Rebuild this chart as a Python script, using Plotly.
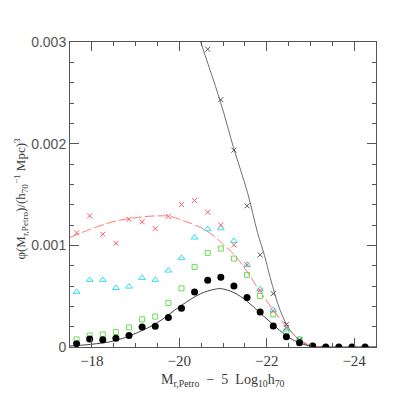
import plotly.graph_objects as go

# absolute magnitude bins (M_r,Petro - 5 log10 h70)
mag_bins = [-17.65, -17.95, -18.25, -18.55, -18.85, -19.15, -19.45, -19.75,
            -20.05, -20.35, -20.65, -20.95, -21.25, -21.55, -21.85, -22.15,
            -22.45, -22.75, -23.05, -23.35, -23.65, -23.95, -24.25]

# filled black circles
phi_black = [0.000033, 0.000079, 0.000072, 0.000085, 0.000114, 0.000197, 0.000203,
             0.000289, 0.000380, 0.000542, 0.000656, 0.000686, 0.000601, 0.000486,
             0.000345, 0.000207, 0.000101, 0.000042, 0.000010, 0.0, 0.0, 0.0, 0.0]

# red crosses
phi_red = [0.001123, 0.001290, 0.001109, 0.001020, 0.001257, 0.001232, 0.001165,
           0.001284, 0.001402, 0.001441, 0.001326, 0.001200, 0.001005, 0.000808,
           0.000558, 0.000355, 0.000190, 0.000060, 0.000005]

# cyan triangles
phi_cyan = [0.000542, 0.000660, 0.000660, 0.000581, 0.000594, 0.000680, 0.000660,
            0.000752, 0.000877, 0.001077, 0.001159, 0.001168, 0.001044, 0.000808,
            0.000568, 0.000365, 0.000173, 0.000070, 0.000005]

# green squares
phi_green = [0.000075, 0.000114, 0.000124, 0.000148, 0.000193, 0.000272, 0.000299,
             0.000434, 0.000577, 0.000788, 0.000926, 0.000968, 0.000870, 0.000709,
             0.000502, 0.000321, 0.000151, 0.000075, 0.000005]

# grey crosses (bright end)
mag_grey = [-20.65, -20.95, -21.25, -21.55, -21.85, -22.15, -22.45, -22.75, -23.05]
phi_grey = [0.002929, 0.002433, 0.001937, 0.001389, 0.000906, 0.000525, 0.000223,
            0.000070, 0.000010]

# fitted curves
fit_low_mag = [-17.5, -17.97, -18.5, -19.04, -19.5, -20.03, -20.49, -20.8, -20.95,
               -21.25, -21.54, -21.84, -22.14, -22.44, -22.74, -23.05, -23.4, -24.5]
fit_low_phi = [0.000010, 0.000026, 0.000059, 0.000141, 0.000240, 0.000404, 0.000525,
               0.000567, 0.000574, 0.000535, 0.000453, 0.000338, 0.000223, 0.000114,
               0.000042, 0.000006, 0.0, 0.0]

fit_red_mag = [-17.5, -17.97, -18.5, -19.04, -19.5, -19.8, -20.1, -20.49, -20.8, -21.0,
               -21.25, -21.54, -21.84, -22.14, -22.44, -22.74, -23.05, -23.3, -24.5]
fit_red_phi = [0.001077, 0.001159, 0.001234, 0.001274, 0.001290, 0.001284, 0.001241,
               0.001175, 0.001090, 0.001010, 0.000912, 0.000749, 0.000552, 0.000370,
               0.000207, 0.000075, 0.000010, 0.0, 0.0]

fit_high_mag = [-20.3, -20.49, -20.94, -21.24, -21.56, -21.79, -21.95, -22.08, -22.31,
                -22.54, -22.77, -23.0, -23.23, -24.5]
fit_high_phi = [0.00326, 0.00300, 0.002414, 0.001963, 0.001520, 0.001126, 0.000899,
                0.000683, 0.000358, 0.000161, 0.000062, 0.000010, 0.0, 0.0]

SERIF = "Liberation Serif"
SANS = "Liberation Sans"
TXT = "#3a3a3a"
AX = "#555555"

fig = go.Figure()

fig.add_trace(go.Scatter(x=fit_high_mag, y=fit_high_phi, mode="lines", line_shape="spline",
                         line=dict(color="#707070", width=1)))
fig.add_trace(go.Scatter(x=fit_low_mag, y=fit_low_phi, mode="lines", line_shape="spline",
                         line=dict(color="#444444", width=1)))
fig.add_trace(go.Scatter(x=fit_red_mag, y=fit_red_phi, mode="lines", line_shape="spline",
                         line=dict(color="#ff7a7a", width=1, dash="10px,3px")))

fig.add_trace(go.Scatter(x=mag_bins[:len(phi_green)], y=phi_green, mode="markers",
                         marker=dict(symbol="square-open", size=5, color="#66dd55",
                                     line=dict(width=1))))
fig.add_trace(go.Scatter(x=mag_bins[:len(phi_cyan)], y=phi_cyan, mode="markers",
                         marker=dict(symbol="triangle-up-open", size=6, color="#33ddee",
                                     line=dict(width=1))))
fig.add_trace(go.Scatter(x=mag_bins[:len(phi_red)], y=phi_red, mode="markers",
                         marker=dict(symbol="x-thin-open", size=5, color="#ff5a5a",
                                     line=dict(width=1, color="#ff5a5a"))))
fig.add_trace(go.Scatter(x=mag_grey, y=phi_grey, mode="markers",
                         marker=dict(symbol="x-thin-open", size=5, color="#555555",
                                     line=dict(width=1, color="#555555"))))
fig.add_trace(go.Scatter(x=mag_bins, y=phi_black, mode="markers",
                         marker=dict(symbol="circle", size=7, color="black")))

fig.update_layout(
    width=402, height=402,
    margin=dict(l=62, r=34, t=34, b=63),
    paper_bgcolor="white", plot_bgcolor="white",
    showlegend=False,
    font=dict(family=SERIF, size=14, color=TXT),
    xaxis=dict(
        range=[-17.5, -24.5], showgrid=False, zeroline=False,
        showline=True, linecolor=AX, linewidth=1, mirror="ticks",
        ticks="inside", ticklen=9, tickcolor=AX,
        tickfont=dict(family=SERIF, size=15, color=TXT),
        tickvals=[-18, -20, -22, -24], ticktext=["\u221218", "\u221220", "\u221222", "\u221224"],
        minor=dict(tickvals=[-17.5 - 0.5 * k for k in range(15)], ticks="inside",
                   ticklen=4, tickcolor=AX, showgrid=False),
    ),
    yaxis=dict(
        range=[0, 0.003], showgrid=False, zeroline=False,
        showline=True, linecolor=AX, linewidth=1, mirror="ticks",
        ticks="inside", ticklen=9, tickcolor=AX,
        tickfont=dict(family=SANS, size=14, color="#555555"),
        tickvals=[0, 0.001, 0.002, 0.003], ticktext=["0", "0.001", "0.002", "0.003"],
        minor=dict(dtick=0.0002, ticks="inside", ticklen=4, tickcolor=AX, showgrid=False),
    ),
)

fig.add_annotation(
    xref="paper", yref="paper", x=0.5, y=-0.111, xanchor="center", yanchor="middle",
    text="M<sub>r,Petro</sub>  \u2212  5  Log<sub>10</sub>h<sub>70</sub>",
    showarrow=False, font=dict(family=SERIF, size=14, color=TXT),
)
fig.add_annotation(
    xref="paper", yref="paper", x=-0.160, y=0.487, xanchor="center", yanchor="middle",
    textangle=-90,
    text="\u03c6(M<sub>r,Petro</sub>)/(h<sub>70</sub><sup>\u22121</sup> Mpc)<sup>3</sup>",
    showarrow=False, font=dict(family=SERIF, size=13, color=TXT),
)

fig.write_html("out.html")
